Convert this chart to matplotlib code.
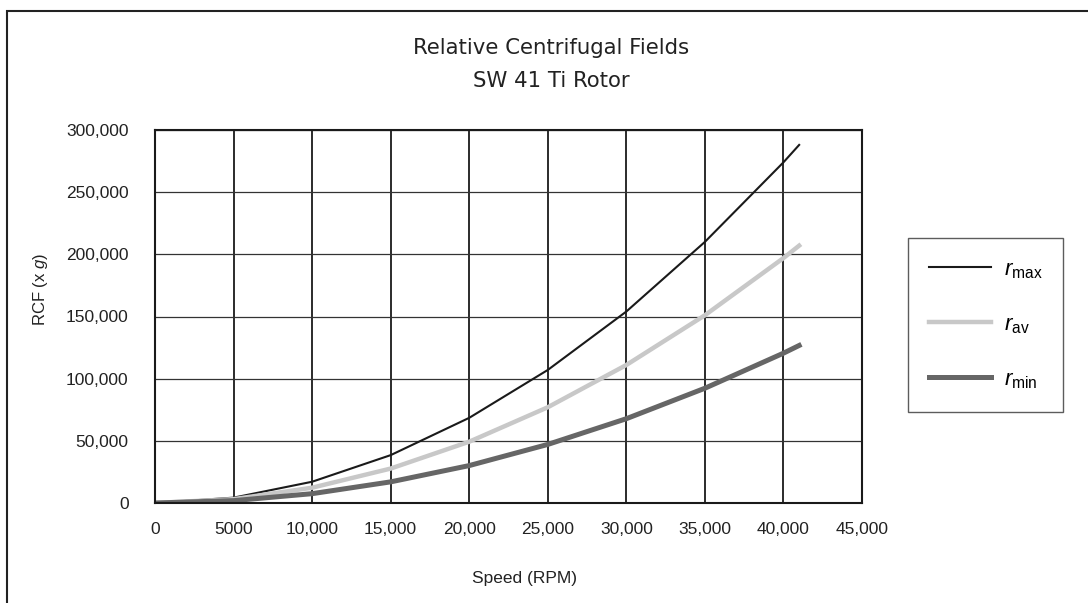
import matplotlib
matplotlib.use("Agg")
import matplotlib.pyplot as plt
from matplotlib.patches import Rectangle
from matplotlib.ticker import FuncFormatter

plt.rcParams['font.family'] = ['Liberation Sans', 'DejaVu Sans']
plt.rcParams['mathtext.fontset'] = 'custom'
plt.rcParams['mathtext.rm'] = 'Liberation Sans'
plt.rcParams['mathtext.it'] = 'Liberation Sans:italic'

# --- data ---
speed = [0, 5000, 10000, 15000, 20000, 25000, 30000, 35000, 40000, 41000]
r_max = [0, 4300, 17100, 38500, 68500, 107000, 154000, 210000, 274000, 288000]
r_av = [0, 3100, 12300, 27700, 49300, 77000, 111000, 151000, 197000, 207000]
r_min = [0, 1900, 7500, 17000, 30100, 47100, 67800, 92300, 120500, 126700]

x_ticks = list(range(0, 45001, 5000))
y_ticks = list(range(0, 300001, 50000))

fig = plt.figure(figsize=(10.88, 6.03), dpi=100)

# outer frame (only left and top edges show in the original)
fig.patches.append(Rectangle((7 / 1088, -0.1), 1.2, (603 - 11) / 603 + 0.1,
                             transform=fig.transFigure, fill=False,
                             edgecolor='#222222', linewidth=1.5))

ax = fig.add_axes([155 / 1088, 100 / 603, 707 / 1088, 373 / 603])

ax.plot(speed, r_max, color='#1a1a1a', linewidth=1.5, label=r'$\mathit{r}_{\mathrm{max}}$')
ax.plot(speed, r_av, color='#c8c8c8', linewidth=3.2, label=r'$\mathit{r}_{\mathrm{av}}$')
ax.plot(speed, r_min, color='#666666', linewidth=3.6, label=r'$\mathit{r}_{\mathrm{min}}$')

ax.set_xlim(0, 45000)
ax.set_ylim(0, 300000)
ax.set_xticks(x_ticks)
ax.set_yticks(y_ticks)

def fmt(v, pos):
    v = int(v)
    if v < 10000:
        return str(v)
    return f"{v:,}"

ax.xaxis.set_major_formatter(FuncFormatter(fmt))
ax.yaxis.set_major_formatter(FuncFormatter(fmt))
ax.tick_params(length=0, labelsize=12.5, colors='#222222', pad=14)
ax.tick_params(axis='y', pad=19)

ax.xaxis.grid(True, color='#1a1a1a', linewidth=1.3)
ax.yaxis.grid(True, color='#333333', linewidth=0.9)
ax.set_axisbelow(True)
for s in ax.spines.values():
    s.set_color('#1a1a1a')
    s.set_linewidth(1.5)

fig.text(472 / 1088, 1 - 579 / 603, "Speed (RPM)", ha='left', va='center',
         fontsize=12.5, color='#222222')
fig.text(41 / 1088, 1 - 289 / 603, r"RCF (x $\mathit{g}$)", rotation=90,
         ha='center', va='center', fontsize=12, color='#222222')

fig.text(551 / 1088, 1 - 48 / 603, "Relative Centrifugal Fields", ha='center',
         va='center', fontsize=15.3, color='#222222', family='DejaVu Sans')
fig.text(551 / 1088, 1 - 81 / 603, "SW 41 Ti Rotor", ha='center',
         va='center', fontsize=15.3, color='#222222', family='DejaVu Sans')

leg = ax.legend(loc='center left', bbox_to_anchor=(908 / 1088, 1 - 325 / 603),
                bbox_transform=fig.transFigure, frameon=True, fancybox=False,
                edgecolor='#333333', fontsize=16, handlelength=2.8,
                labelspacing=1.5, borderpad=0.95, handletextpad=0.55,
                borderaxespad=0)
leg.get_frame().set_linewidth(1.0)

fig.savefig("out.png", dpi=100)
